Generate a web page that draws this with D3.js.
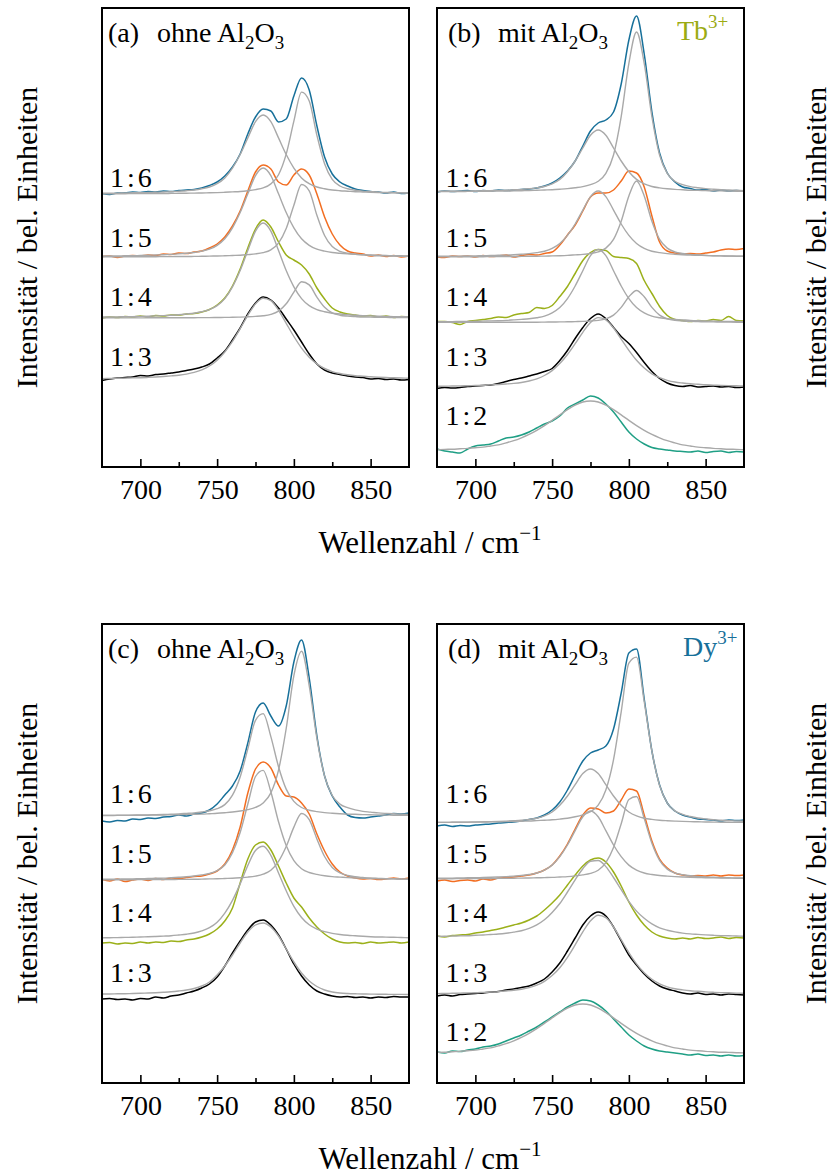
<!DOCTYPE html>
<html><head><meta charset="utf-8">
<script src="https://cdn.jsdelivr.net/npm/d3@7"></script>
<style>
body{margin:0;background:#fff}
svg{display:block}
text{font-family:"Liberation Serif","Times New Roman",serif;fill:#000}
</style>
</head><body>
<svg id="chart" width="832" height="1176"></svg>
<script>
// ---------------- data ----------------
const wavenumber = [675,680,685,690,695,700,705,710,715,720,725,730,735,740,745,750,755,760,765,770,775,780,785,790,795,800,805,810,815,820,825,830,835,840,845,850,855,860,865,870,875];
const majorTicks = [700,750,800,850];
const minorTicks = [725,775,825];
const ratioColors = {"1:6":"#17709a","1:5":"#f26e22","1:4":"#9bb01a","1:3":"#000000","1:2":"#1f9f85"};

// Panel (a) Tb3+ ohne Al2O3 : values above each trace's baseline, intensity a.u.
const ratiosA = ["1:6","1:5","1:4","1:3"];
const offsetsA = [27.3,21.0,14.9,8.7];
const specA16 = [0.05,-0.05,0.1,0.12,0.2,0.15,0.25,0.2,0.3,0.25,0.35,0.4,0.45,0.6,0.85,1.2,1.8,2.7,4.0,6.0,7.7,8.5,8.3,7.2,7.5,9.8,11.6,10.4,6.8,3.7,2.0,1.2,0.8,0.5,0.35,0.25,0.2,0.1,0.2,0.05,0.1];
const fitA16a = [0.08,0.09,0.09,0.11,0.12,0.13,0.15,0.17,0.2,0.23,0.28,0.33,0.4,0.52,0.7,1.03,1.61,2.59,3.95,5.61,7.23,7.9,7.23,5.61,3.95,2.59,1.61,1.03,0.7,0.52,0.4,0.33,0.28,0.23,0.2,0.17,0.15,0.13,0.12,0.11,0.09];
const fitA16b = [0.03,0.03,0.03,0.03,0.04,0.04,0.04,0.05,0.05,0.06,0.07,0.08,0.09,0.1,0.12,0.14,0.17,0.21,0.25,0.33,0.44,0.61,1.01,1.93,3.99,7.28,10.19,9.3,5.87,3.02,1.46,0.8,0.53,0.38,0.29,0.24,0.19,0.16,0.14,0.11,0.1];
const specA15 = [0.05,0.1,-0.05,0.1,0.15,0.1,0.2,0.15,0.3,0.25,0.4,0.35,0.5,0.6,0.9,1.3,2.0,3.1,4.6,6.6,8.5,9.2,8.8,7.5,7.2,8.2,8.8,8.2,6.3,4.0,2.3,1.2,0.6,0.4,0.3,0.1,0.2,0.05,0.15,0.0,0.1];
const fitA15a = [0.09,0.1,0.11,0.12,0.13,0.15,0.17,0.2,0.22,0.26,0.31,0.37,0.45,0.59,0.78,1.17,1.82,2.92,4.45,6.32,8.14,8.9,8.14,6.32,4.45,2.92,1.82,1.17,0.78,0.59,0.45,0.37,0.31,0.26,0.22,0.2,0.17,0.15,0.13,0.12,0.11];
const fitA15b = [0.02,0.02,0.02,0.02,0.03,0.03,0.03,0.03,0.04,0.04,0.05,0.05,0.06,0.07,0.09,0.1,0.12,0.15,0.18,0.24,0.31,0.44,0.72,1.38,2.84,5.18,7.25,6.62,4.17,2.15,1.04,0.57,0.38,0.27,0.21,0.17,0.13,0.11,0.1,0.08,0.07];
const specA14 = [0.0,0.1,0.05,0.15,0.1,0.2,0.1,0.25,0.2,0.3,0.3,0.4,0.45,0.6,0.85,1.3,2.0,3.2,4.9,7.0,8.9,9.8,9.1,7.6,6.3,5.8,5.3,4.4,3.0,1.9,1.0,0.6,0.4,0.3,0.2,0.25,0.1,0.2,0.05,0.15,0.1];
const fitA14a = [0.1,0.1,0.11,0.13,0.14,0.16,0.18,0.21,0.24,0.28,0.33,0.4,0.48,0.63,0.84,1.24,1.94,3.12,4.75,6.75,8.69,9.5,8.69,6.75,4.75,3.12,1.94,1.24,0.84,0.63,0.48,0.4,0.33,0.28,0.24,0.21,0.18,0.16,0.14,0.13,0.11];
const fitA14b = [0.01,0.01,0.01,0.01,0.01,0.01,0.02,0.02,0.02,0.02,0.02,0.03,0.03,0.04,0.04,0.05,0.06,0.07,0.09,0.12,0.16,0.22,0.36,0.69,1.42,2.59,3.63,3.31,2.09,1.07,0.52,0.28,0.19,0.14,0.1,0.09,0.07,0.06,0.05,0.04,0.04];
const specA13 = [-0.05,0.1,0.2,0.25,0.3,0.45,0.4,0.55,0.6,0.7,0.8,0.95,1.1,1.3,1.6,2.2,2.9,4.0,5.2,6.6,7.7,8.3,8.0,7.2,6.1,5.0,3.8,2.6,1.6,1.0,0.7,0.55,0.4,0.3,0.25,0.1,0.15,0.05,0.1,0.0,0.05];
const fitA13 = [0.14,0.15,0.17,0.19,0.21,0.23,0.26,0.3,0.35,0.41,0.48,0.59,0.76,1.02,1.4,1.98,2.8,3.86,5.13,6.47,7.61,8.18,7.93,6.97,5.67,4.35,3.19,2.28,1.61,1.15,0.84,0.65,0.52,0.43,0.38,0.32,0.28,0.25,0.22,0.2,0.18];

// Panel (b) Tb3+ mit Al2O3
const ratiosB = ["1:6","1:5","1:4","1:3","1:2"];
const offsetsB = [27.5,21.0,14.45,7.95,1.5];
const specB16 = [0.0,0.1,0.05,0.1,0.15,0.05,0.15,0.1,0.2,0.15,0.2,0.25,0.3,0.4,0.6,0.9,1.4,2.1,3.1,4.6,6.1,6.9,7.2,8.0,10.8,15.2,17.6,13.8,8.0,3.9,1.9,1.0,0.5,0.35,0.2,0.25,0.1,0.2,0.1,0.15,0.05];
const fitB16a = [0.06,0.07,0.07,0.08,0.09,0.11,0.12,0.14,0.16,0.18,0.22,0.26,0.32,0.41,0.55,0.81,1.26,2.03,3.1,4.4,5.67,6.2,5.67,4.4,3.1,2.03,1.26,0.81,0.55,0.41,0.32,0.26,0.22,0.18,0.16,0.14,0.12,0.11,0.09,0.08,0.07];
const fitB16b = [0.04,0.05,0.05,0.05,0.06,0.07,0.07,0.08,0.09,0.1,0.11,0.13,0.14,0.17,0.2,0.23,0.28,0.34,0.43,0.54,0.74,1.07,1.87,3.7,7.54,12.86,16,12.86,7.54,3.7,1.87,1.07,0.74,0.54,0.43,0.34,0.28,0.23,0.2,0.17,0.14];
const specB15 = [0.0,-0.05,0.1,0.05,0.1,0.0,0.15,0.05,0.1,0.2,0.0,0.15,0.25,0.2,0.35,0.5,1.2,2.2,3.2,4.6,6.0,6.4,6.4,6.7,7.6,8.6,8.4,7.0,4.1,1.5,0.6,0.4,0.3,0.35,0.3,0.4,0.5,0.7,0.8,0.75,0.85];
const fitB15a = [0.07,0.07,0.08,0.09,0.1,0.11,0.13,0.15,0.17,0.19,0.23,0.28,0.34,0.44,0.58,0.86,1.35,2.16,3.3,4.69,6.04,6.6,6.04,4.69,3.3,2.16,1.35,0.86,0.58,0.44,0.34,0.28,0.23,0.19,0.17,0.15,0.13,0.11,0.1,0.09,0.08];
const fitB15b = [0.02,0.02,0.02,0.03,0.03,0.03,0.03,0.04,0.04,0.05,0.05,0.06,0.07,0.08,0.09,0.11,0.13,0.16,0.21,0.26,0.35,0.51,0.89,1.76,3.58,6.11,7.6,6.11,3.58,1.76,0.89,0.51,0.35,0.26,0.21,0.16,0.13,0.11,0.09,0.08,0.07];
const specB14 = [0.1,0.1,0.0,-0.2,0.1,0.2,0.3,0.4,0.55,0.5,0.75,0.9,1.0,1.5,1.4,1.7,2.6,3.6,4.9,6.2,7.0,7.3,7.2,6.6,6.5,6.4,5.9,4.2,2.9,1.6,0.7,0.3,0.2,0.1,0.2,0.15,0.3,0.2,0.6,0.2,0.15];
const fitB14a = [0.07,0.08,0.09,0.1,0.11,0.12,0.14,0.16,0.18,0.21,0.26,0.31,0.37,0.48,0.64,0.96,1.49,2.39,3.65,5.18,6.68,7.3,6.68,5.18,3.65,2.39,1.49,0.96,0.64,0.48,0.37,0.31,0.26,0.21,0.18,0.16,0.14,0.12,0.11,0.1,0.09];
const fitB14b = [0.01,0.01,0.01,0.01,0.01,0.01,0.01,0.02,0.02,0.02,0.02,0.03,0.03,0.03,0.04,0.05,0.06,0.07,0.09,0.11,0.15,0.21,0.37,0.74,1.51,2.57,3.2,2.57,1.51,0.74,0.37,0.21,0.15,0.11,0.09,0.07,0.06,0.05,0.04,0.03,0.03];
const specB13 = [-0.1,0.0,-0.05,0.0,0.1,0.15,0.2,0.25,0.4,0.6,0.8,0.95,1.15,1.35,1.6,1.9,2.7,3.7,4.9,6.0,6.9,7.35,6.9,6.0,5.1,4.4,3.5,2.5,1.6,0.9,0.45,0.2,0.1,0.2,0.05,0.1,0.15,0.05,0.1,0.0,0.05];
const fitB13 = [0.12,0.13,0.15,0.16,0.18,0.2,0.22,0.26,0.3,0.35,0.41,0.5,0.65,0.87,1.2,1.69,2.39,3.3,4.38,5.52,6.5,6.99,6.77,5.95,4.84,3.71,2.72,1.95,1.37,0.98,0.72,0.55,0.45,0.37,0.32,0.27,0.24,0.21,0.19,0.17,0.15];
const specB12 = [0.3,0.1,0.0,-0.1,0.3,0.6,0.7,0.8,1.1,1.4,1.5,1.7,2.0,2.4,2.8,3.1,3.6,4.4,4.8,5.2,5.6,5.4,4.8,4.0,3.0,2.0,1.3,0.8,0.45,0.3,0.2,0.1,0.05,0.0,0.1,-0.05,0.05,0.1,-0.05,0.05,0.0];
const fitB12 = [0.23,0.26,0.28,0.32,0.36,0.42,0.49,0.6,0.71,0.91,1.13,1.42,1.76,2.17,2.64,3.16,3.71,4.23,4.69,5.0,5.1,5.0,4.69,4.23,3.71,3.16,2.64,2.17,1.76,1.42,1.13,0.91,0.71,0.6,0.49,0.42,0.36,0.32,0.28,0.26,0.23];

// Panel (c) Dy3+ ohne Al2O3
const ratiosC = ["1:6","1:5","1:4","1:3"];
const offsetsC = [26.7,20.3,14.4,8.8];
const specC16 = [-0.5,-0.6,-0.45,-0.5,-0.3,-0.35,-0.2,-0.25,-0.1,-0.05,0.1,0.0,0.2,0.3,0.6,1.2,2.1,3.0,4.5,7.3,10.4,11.3,10.0,9.0,11.0,15.4,17.6,13.8,8.0,4.0,2.0,0.9,0.1,-0.15,-0.2,-0.1,0.0,0.1,0.25,0.2,0.3];
const fitC16a = [0.06,0.06,0.07,0.08,0.09,0.1,0.11,0.13,0.15,0.18,0.21,0.26,0.31,0.4,0.52,0.73,1.14,2.08,3.9,6.71,9.57,10.24,7.94,4.93,2.69,1.46,0.85,0.58,0.44,0.34,0.28,0.23,0.19,0.17,0.14,0.12,0.11,0.09,0.08,0.07,0.07];
const fitC16b = [0.05,0.05,0.06,0.06,0.07,0.07,0.08,0.09,0.1,0.12,0.13,0.15,0.17,0.19,0.23,0.27,0.33,0.4,0.5,0.64,0.86,1.3,2.31,4.59,8.75,14.03,16.47,13.02,7.77,3.99,2.05,1.19,0.83,0.61,0.46,0.39,0.31,0.26,0.22,0.19,0.16];
const specC15 = [0.05,-0.1,0.1,-0.15,0.0,0.1,-0.05,0.15,0.05,0.2,0.15,0.25,0.35,0.4,0.6,0.9,1.6,3.0,5.3,8.7,11.1,11.8,11.2,9.5,8.4,8.3,7.7,6.6,4.6,2.9,1.6,0.8,0.4,0.2,0.1,0.15,0.05,0.1,0.2,0.1,0.2];
const fitC15a = [0.07,0.08,0.09,0.1,0.11,0.13,0.15,0.17,0.19,0.23,0.27,0.32,0.4,0.51,0.65,0.94,1.5,2.73,4.75,7.6,10.35,10.96,8.82,5.82,3.44,1.93,1.13,0.75,0.56,0.43,0.34,0.29,0.24,0.2,0.18,0.15,0.13,0.12,0.11,0.09,0.08];
const fitC15b = [0.02,0.02,0.03,0.03,0.03,0.04,0.04,0.04,0.05,0.05,0.06,0.06,0.07,0.09,0.11,0.12,0.15,0.18,0.23,0.29,0.39,0.58,0.98,1.86,3.35,5.29,6.65,6.03,4.11,2.35,1.26,0.71,0.45,0.32,0.25,0.19,0.16,0.13,0.11,0.1,0.08];
const specC14 = [-0.4,-0.35,-0.5,-0.4,-0.45,-0.3,-0.4,-0.3,-0.35,-0.2,-0.25,-0.1,0.0,0.2,0.5,1.0,1.8,3.1,5.6,8.0,9.4,9.7,8.9,7.3,5.6,4.1,3.2,2.1,1.2,0.5,0.0,-0.3,-0.4,-0.35,-0.45,-0.3,-0.4,-0.35,-0.3,-0.4,-0.3];
const fitC14 = [0.11,0.13,0.14,0.16,0.17,0.2,0.22,0.25,0.29,0.33,0.4,0.48,0.6,0.81,1.13,1.68,2.59,3.86,5.51,7.35,8.85,9.27,8.37,6.6,4.82,3.26,2.15,1.42,0.99,0.73,0.56,0.45,0.37,0.32,0.27,0.23,0.2,0.19,0.17,0.15,0.13];
const specC13 = [-0.4,-0.35,-0.45,-0.4,-0.5,-0.35,-0.4,-0.2,-0.3,-0.1,0.0,0.2,0.4,0.7,1.1,1.8,2.9,4.2,5.4,6.5,7.3,7.5,7.0,6.0,4.6,3.1,1.9,1.0,0.4,0.1,-0.1,-0.2,-0.15,-0.25,-0.2,-0.3,-0.2,-0.25,-0.15,-0.2,-0.2];
const fitC13 = [0.1,0.1,0.12,0.13,0.15,0.17,0.2,0.23,0.27,0.32,0.4,0.5,0.65,0.9,1.3,2.0,2.9,4.0,5.2,6.3,7.0,7.2,6.8,5.9,4.6,3.3,2.2,1.4,0.85,0.5,0.3,0.2,0.15,0.12,0.1,0.09,0.08,0.07,0.06,0.06,0.05];

// Panel (d) Dy3+ mit Al2O3
const ratiosD = ["1:6","1:5","1:4","1:3","1:2"];
const offsetsD = [26.0,20.4,14.5,8.8,2.8];
const specD16 = [-0.3,-0.2,-0.35,-0.25,-0.3,-0.2,-0.15,-0.1,0.0,0.05,0.1,0.2,0.35,0.5,0.8,1.3,2.1,3.3,4.8,6.2,7.0,7.3,7.7,9.4,13.0,17.0,17.4,12.4,7.2,3.8,2.0,1.2,0.8,0.6,0.4,0.35,0.3,0.2,0.3,0.25,0.3];
const fitD16a = [0.06,0.06,0.07,0.08,0.09,0.1,0.12,0.14,0.16,0.19,0.23,0.28,0.36,0.48,0.71,1.1,1.77,2.7,3.83,4.94,5.4,4.94,3.83,2.7,1.77,1.1,0.71,0.48,0.36,0.28,0.23,0.19,0.16,0.14,0.12,0.1,0.09,0.08,0.07,0.06,0.06];
const fitD16b = [0.06,0.06,0.07,0.07,0.08,0.09,0.1,0.11,0.12,0.14,0.15,0.18,0.2,0.24,0.28,0.32,0.39,0.48,0.62,0.82,1.13,1.78,3.3,6.33,11.12,15.99,16.59,12.14,7.18,3.76,2.0,1.21,0.86,0.65,0.5,0.41,0.33,0.28,0.24,0.21,0.18];
const specD15 = [-0.2,-0.1,-0.25,-0.15,-0.1,-0.2,0.0,-0.1,0.1,0.15,0.2,0.3,0.4,0.6,0.9,1.4,2.3,3.5,5.0,6.4,7.1,7.0,6.6,6.8,7.9,9.0,8.8,6.4,3.8,2.0,1.1,0.6,0.4,0.3,0.35,0.3,0.4,0.3,0.4,0.35,0.4];
const fitD15a = [0.07,0.08,0.09,0.1,0.12,0.13,0.15,0.17,0.2,0.24,0.29,0.35,0.45,0.6,0.89,1.39,2.23,3.4,4.83,6.22,6.8,6.22,4.83,3.4,2.23,1.39,0.89,0.6,0.45,0.35,0.29,0.24,0.2,0.17,0.15,0.13,0.12,0.1,0.09,0.08,0.07];
const fitD15b = [0.03,0.03,0.03,0.04,0.04,0.04,0.05,0.05,0.06,0.07,0.08,0.09,0.1,0.12,0.14,0.16,0.2,0.24,0.31,0.41,0.56,0.88,1.64,3.15,5.53,7.95,8.25,6.04,3.57,1.87,0.99,0.6,0.43,0.32,0.25,0.2,0.17,0.14,0.12,0.1,0.09];
const specD14 = [0.2,0.1,0.25,0.3,0.35,0.5,0.6,0.75,0.9,1.1,1.3,1.5,1.8,2.2,2.8,3.5,4.3,5.3,6.3,7.2,7.8,8.0,7.6,6.6,5.2,3.6,2.3,1.3,0.6,0.2,0.0,-0.1,0.0,-0.1,0.05,-0.05,0.0,0.1,-0.05,0.05,0.0];
const fitD14 = [0.16,0.17,0.2,0.21,0.23,0.27,0.3,0.35,0.4,0.48,0.59,0.73,0.97,1.32,1.82,2.56,3.45,4.6,5.81,6.93,7.68,7.75,7.14,6.05,4.84,3.67,2.69,1.97,1.41,1.02,0.78,0.61,0.49,0.41,0.36,0.31,0.27,0.24,0.22,0.2,0.18];
const specD13 = [-0.1,0.0,-0.1,0.05,0.1,0.15,0.2,0.3,0.35,0.5,0.6,0.75,0.9,1.2,1.6,2.3,3.2,4.4,5.7,7.0,7.9,8.3,7.9,6.8,5.4,4.0,3.0,2.1,1.4,0.9,0.6,0.4,0.2,0.1,0.2,0.05,0.1,0.0,0.1,0.05,0.0];
const fitD13 = [0.14,0.15,0.17,0.19,0.21,0.22,0.26,0.3,0.34,0.4,0.47,0.58,0.74,0.99,1.37,1.94,2.73,3.77,5.01,6.31,7.42,7.98,7.74,6.8,5.53,4.24,3.11,2.22,1.57,1.12,0.82,0.63,0.51,0.42,0.37,0.31,0.27,0.24,0.22,0.19,0.18];
const specD12 = [0.3,0.2,0.4,0.35,0.5,0.6,0.8,0.9,1.1,1.4,1.7,2.0,2.4,2.8,3.3,3.8,4.3,4.8,5.2,5.5,5.4,5.0,4.4,3.6,2.8,2.0,1.4,0.9,0.6,0.4,0.3,0.2,0.1,0.0,0.1,-0.05,0.0,-0.1,0.0,-0.1,-0.05];
const fitD12 = [0.26,0.28,0.32,0.36,0.42,0.49,0.6,0.71,0.91,1.13,1.42,1.76,2.17,2.64,3.16,3.71,4.23,4.69,5.0,5.1,5.0,4.69,4.23,3.71,3.16,2.64,2.17,1.76,1.42,1.13,0.91,0.71,0.6,0.49,0.42,0.36,0.32,0.28,0.26,0.23,0.21];

// ---------------- panels ----------------
const panels = [
  {tag:"(a)", text:"ohne", ion:null, ratios:ratiosA, offsets:offsetsA,
   spectra:[specA16,specA15,specA14,specA13],
   fits:[[fitA16a,fitA16b],[fitA15a,fitA15b],[fitA14a,fitA14b],[fitA13]]},
  {tag:"(b)", text:"mit", ion:{name:"Tb",charge:"3+",color:"#9bab12"}, ratios:ratiosB, offsets:offsetsB,
   spectra:[specB16,specB15,specB14,specB13,specB12],
   fits:[[fitB16a,fitB16b],[fitB15a,fitB15b],[fitB14a,fitB14b],[fitB13],[fitB12]]},
  {tag:"(c)", text:"ohne", ion:null, ratios:ratiosC, offsets:offsetsC,
   spectra:[specC16,specC15,specC14,specC13],
   fits:[[fitC16a,fitC16b],[fitC15a,fitC15b],[fitC14],[fitC13]]},
  {tag:"(d)", text:"mit", ion:{name:"Dy",charge:"3+",color:"#17709a"}, ratios:ratiosD, offsets:offsetsD,
   spectra:[specD16,specD15,specD14,specD13,specD12],
   fits:[[fitD16a,fitD16b],[fitD15a,fitD15b],[fitD14],[fitD13],[fitD12]]}
];

// ---------------- layout ----------------
const svg = d3.select("#chart");
const PW = 307, PH = 459;
const frames = [
  {x:102, y:8,   tagX:6,  wordX:55, ionX:0},
  {x:437, y:8,   tagX:11, wordX:61, ionX:240},
  {x:102, y:624, tagX:6,  wordX:55, ionX:0},
  {x:437, y:624, tagX:11, wordX:61, ionX:246}
];
const xS = d3.scaleLinear().domain([675,875]).range([0,PW]);
const yS = d3.scaleLinear().domain([0,45.9]).range([PH,0]);
const line = d3.line().x(d=>xS(d[0])).y(d=>yS(d[1])).curve(d3.curveMonotoneX);

svg.append("defs").append("clipPath").attr("id","pclip")
  .append("rect").attr("x",0).attr("y",0).attr("width",PW).attr("height",PH);

panels.forEach((p,i)=>{
  const f = frames[i];
  const g = svg.append("g").attr("transform",`translate(${f.x},${f.y})`);
  const plot = g.append("g").attr("clip-path","url(#pclip)");
  p.ratios.forEach((r,k)=>{
    const off = p.offsets[k];
    plot.append("path")
      .attr("d", line(wavenumber.map((w,j)=>[w, off + p.spectra[k][j]])))
      .attr("fill","none").attr("stroke",ratioColors[r]).attr("stroke-width",1.5)
      .attr("stroke-linejoin","round");
  });
  p.ratios.forEach((r,k)=>{
    const off = p.offsets[k];
    p.fits[k].forEach(fit=>{
      plot.append("path")
        .attr("d", line(wavenumber.map((w,j)=>[w, off + fit[j]])))
        .attr("fill","none").attr("stroke","#a9a9a9").attr("stroke-width",1.4);
    });
    const t = g.append("text").attr("x", i%2===0 ? 8 : 8.5)
      .attr("y", 179 + 59.5*k).attr("font-size",28).attr("letter-spacing",3);
    t.text(r);
  });
  const major = d3.axisBottom(xS).tickValues(majorTicks).tickSize(-8).tickPadding(12).tickFormat(d3.format("d"));
  const minor = d3.axisBottom(xS).tickValues(minorTicks).tickSize(-5).tickFormat("");
  const ga = g.append("g").attr("transform",`translate(0,${PH})`).call(major);
  const gm = g.append("g").attr("transform",`translate(0,${PH})`).call(minor);
  [ga,gm].forEach(a=>{
    a.select(".domain").remove();
    a.selectAll("line").attr("stroke","#000").attr("stroke-width",1.6);
  });
  ga.selectAll("text").attr("font-size",28).attr("font-family",'"Liberation Serif","Times New Roman",serif').attr("fill","#000");
  g.append("rect").attr("x",0).attr("y",0).attr("width",PW).attr("height",PH)
    .attr("fill","none").attr("stroke","#000").attr("stroke-width",2);
  const tt = g.append("text").attr("y",34).attr("font-size",28);
  tt.append("tspan").attr("x",f.tagX).text(p.tag);
  tt.append("tspan").attr("x",f.wordX).text(p.text+" Al");
  tt.append("tspan").attr("dy",7).attr("font-size",19).text("2");
  tt.append("tspan").attr("dy",-7).text("O");
  tt.append("tspan").attr("dy",7).attr("font-size",19).text("3");
  if(p.ion){
    const it = g.append("text").attr("x",f.ionX).attr("y",32).attr("font-size",28).attr("fill",p.ion.color);
    it.append("tspan").attr("fill",p.ion.color).text(p.ion.name);
    it.append("tspan").attr("dy",-12).attr("font-size",19).attr("fill",p.ion.color).text(p.ion.charge);
  }
});

// axis titles
[[0,237.5],[616,853.5]].forEach(([dy,cy])=>{
  const xl = svg.append("text").attr("x",430).attr("y",553+dy).attr("text-anchor","middle").attr("font-size",31);
  xl.append("tspan").text("Wellenzahl / cm");
  xl.append("tspan").attr("dy",-13).attr("font-size",21).text("\u22121");
  [37,826].forEach(xx=>{
    svg.append("text").attr("transform",`translate(${xx},${cy}) rotate(-90)`)
      .attr("text-anchor","middle").attr("font-size",30).text("Intensität / bel. Einheiten");
  });
});
</script>
</body></html>
